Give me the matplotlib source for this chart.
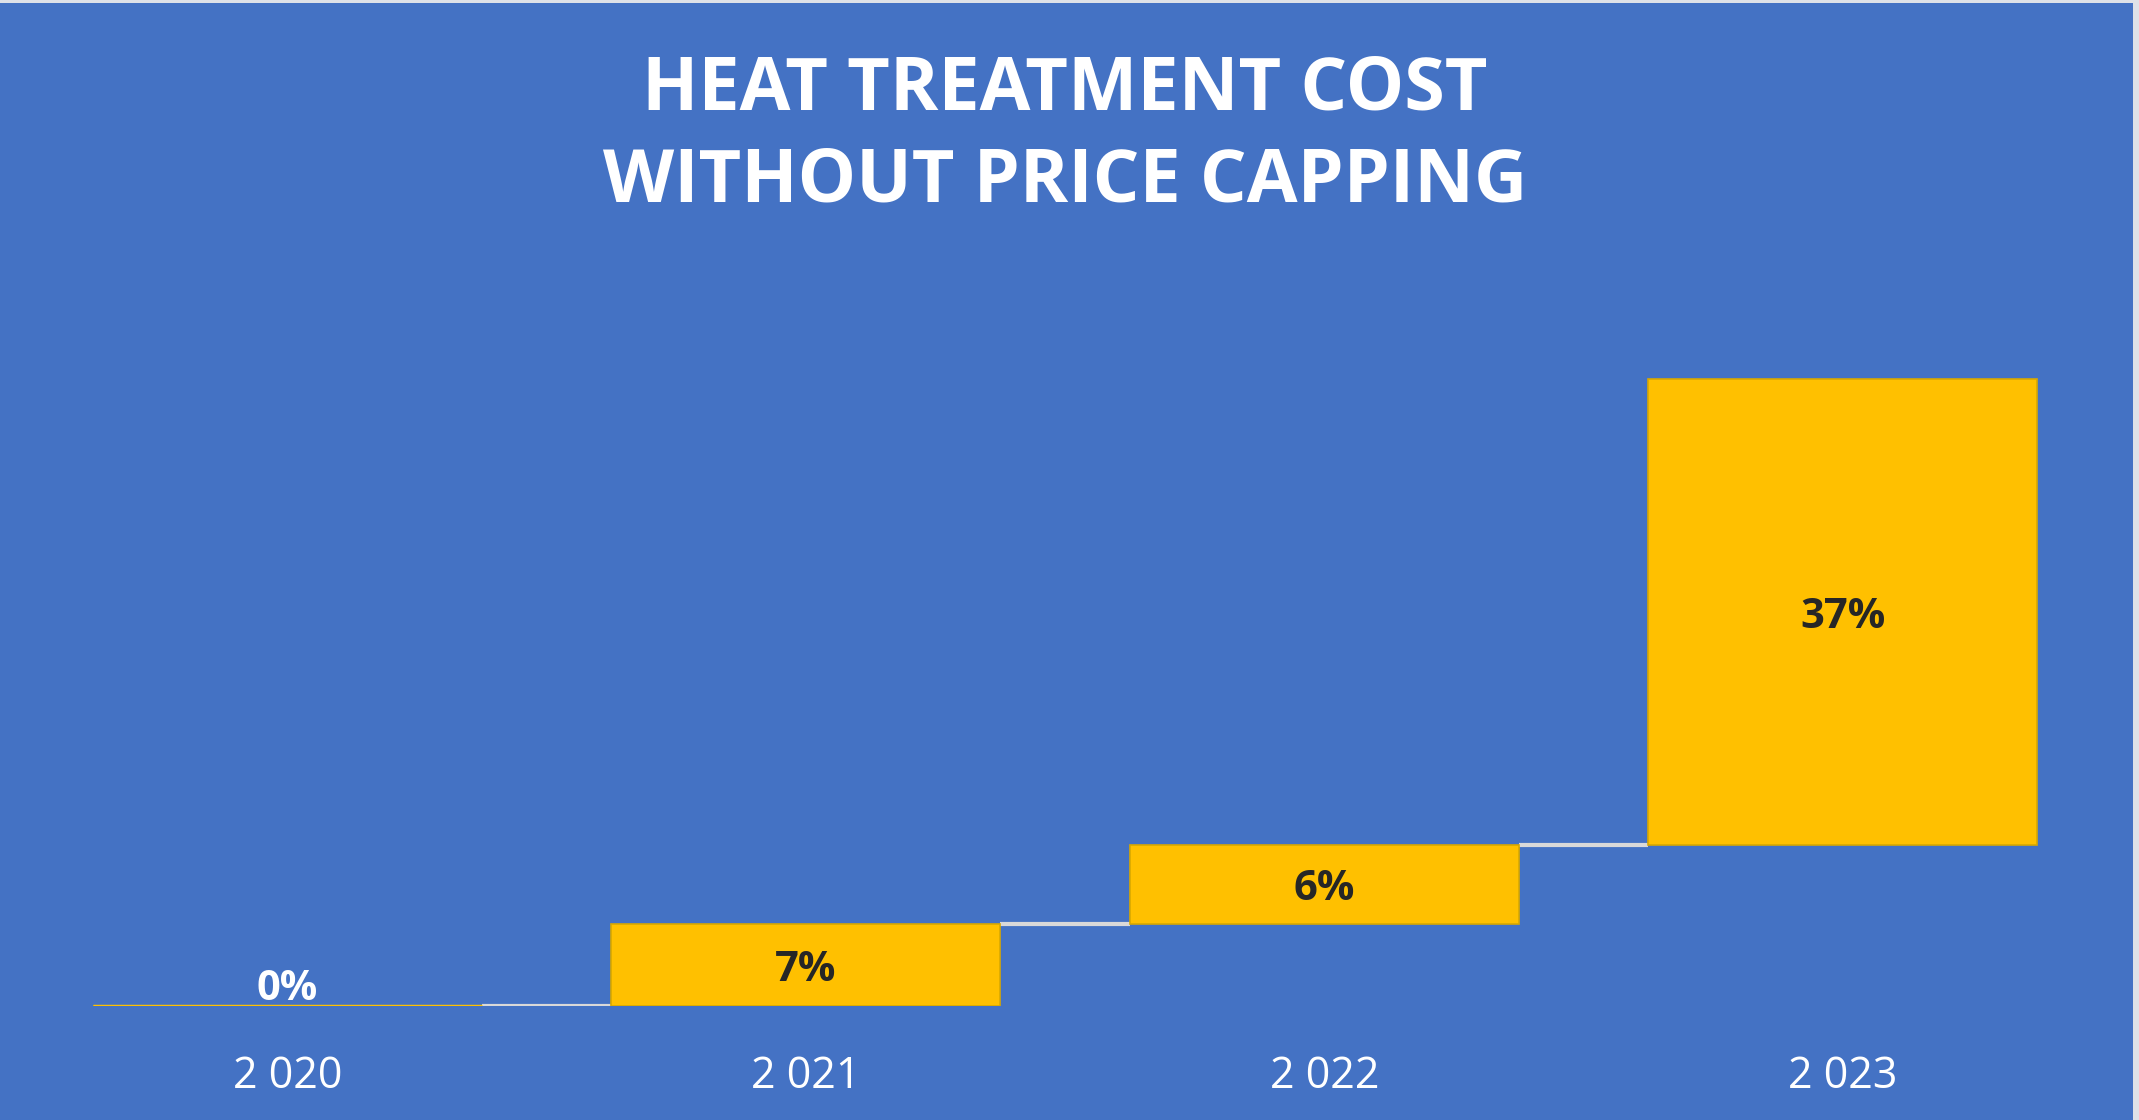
import matplotlib.pyplot as plt
from matplotlib.patches import Rectangle

# data
years = ["2 020", "2 021", "2 022", "2 023"]
changes = [0.0, 6.5, 6.3, 37.0]
value_labels = ["0%", "7%", "6%", "37%"]

BLUE = "#4472C4"
GOLD = "#FFC000"

if __name__ == "__main__":
    W, H = 2139, 1120
    fig = plt.figure(figsize=(W / 100, H / 100), dpi=100)
    fig.patch.set_facecolor("#DFE2E8")
    # blue chart area with a thin light border on top and right
    fig.patches.append(Rectangle((0, 0), 2133 / W, 1117 / H, transform=fig.transFigure,
                                 facecolor=BLUE, edgecolor="none", zorder=-5))

    ax = fig.add_axes([28 / W, (H - 1006) / H, (2102 - 28) / W, 630 / H])
    ax.set_facecolor("none")
    ax.set_zorder(2)

    # waterfall: each bar starts where the previous one ended
    bottoms = []
    total = 0.0
    for v in changes:
        bottoms.append(total)
        total += v
    x = list(range(len(years)))
    width = 0.75

    ax.bar(x, changes, bottom=bottoms, width=width, color=GOLD,
           edgecolor="#D8A800", linewidth=1.2, zorder=3)
    # zero-height first bar shows as a thin line
    ax.hlines(bottoms[0], x[0] - width / 2, x[0] + width / 2, color=GOLD, lw=2.5, zorder=3)

    # connectors between bars
    for i in range(len(years) - 1):
        level = bottoms[i] + changes[i]
        ax.hlines(level, x[i] + width / 2, x[i + 1] - width / 2,
                  color="#D9D9D9", lw=3, zorder=2)

    for i, lab in enumerate(value_labels):
        if changes[i] == 0:
            ax.annotate(lab, (x[i], bottoms[i]), xytext=(0, -3), textcoords="offset points",
                        ha="center", va="bottom", color="white", fontsize=30,
                        fontweight="bold", family="Open Sans")
        else:
            ax.annotate(lab, (x[i], bottoms[i] + changes[i] / 2), xytext=(0, -4),
                        textcoords="offset points", ha="center", va="center",
                        color="#262626", fontsize=30, fontweight="bold", family="Open Sans")

    ax.set_xlim(-0.5, len(years) - 0.5)
    ax.set_ylim(0, 50)
    ax.set_xticks(x)
    ax.set_xticklabels(years, color="white", fontsize=31, family="Open Sans")
    ax.tick_params(axis="x", length=0, pad=35)
    ax.set_yticks([])
    for s in ax.spines.values():
        s.set_visible(False)

    fig.text(1065 / W, 1 - 90 / H, "HEAT TREATMENT COST", ha="center", va="center",
             color="white", fontsize=53, fontweight="bold", family="Open Sans")
    fig.text(1065 / W, 1 - 183 / H, "WITHOUT PRICE CAPPING", ha="center", va="center",
             color="white", fontsize=53, fontweight="bold", family="Open Sans")

    fig.savefig("out.png", dpi=100, facecolor=fig.get_facecolor())
